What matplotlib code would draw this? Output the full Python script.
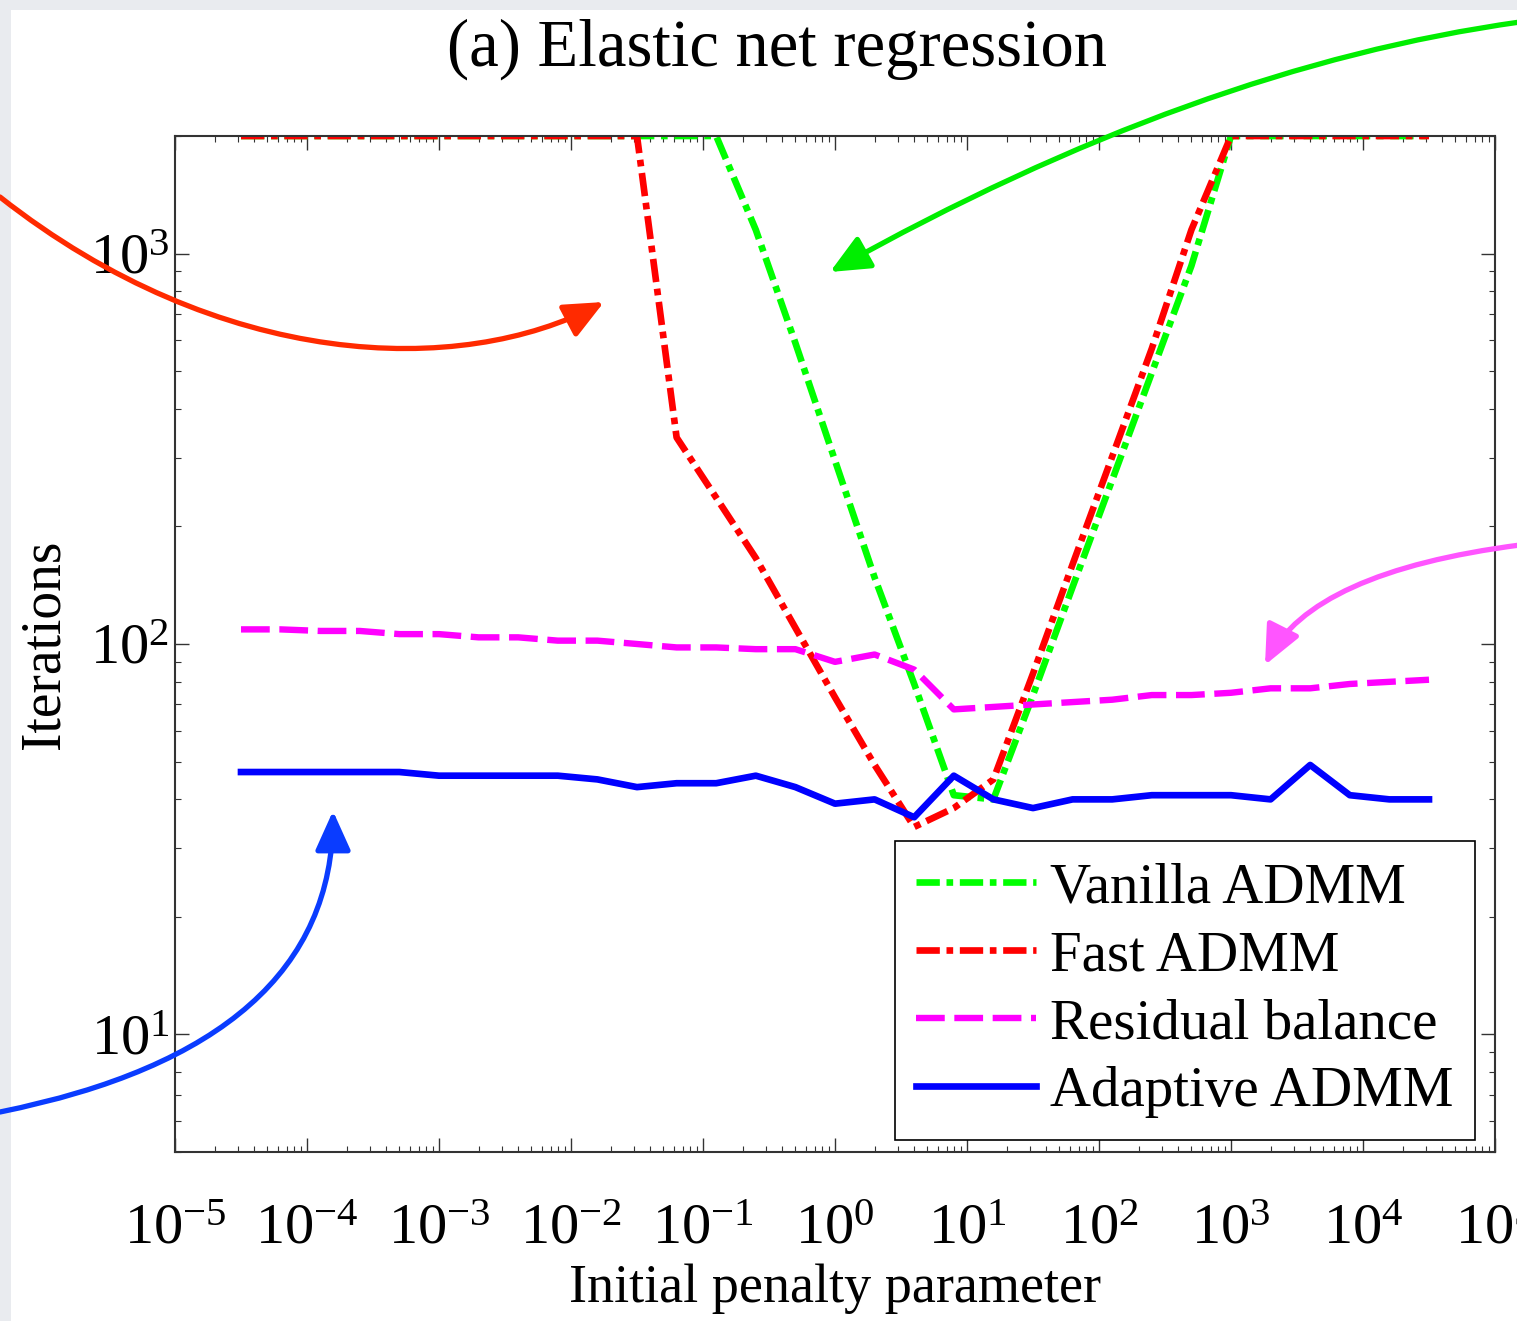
import numpy as np
import matplotlib
matplotlib.use("Agg")
import matplotlib.pyplot as plt
from matplotlib.patches import FancyArrowPatch, Rectangle
from matplotlib.path import Path
from matplotlib.ticker import LogLocator, NullFormatter

W, H = 1517, 1321

# initial penalty parameter, as log10 exponents
log_rho = [-4.5, -4.2, -3.9, -3.6, -3.3, -3.0, -2.7, -2.4, -2.1, -1.8, -1.5,
           -1.2, -0.9, -0.6, -0.3, 0.0, 0.3, 0.6, 0.9, 1.2, 1.5, 1.8,
           2.1, 2.4, 2.7, 3.0, 3.3, 3.6, 3.9, 4.2, 4.5]
rho = [10 ** v for v in log_rho]

vanilla = [2000, 2000, 2000, 2000, 2000, 2000, 2000, 2000, 2000, 2000, 2000,
           2000, 2000, 1150, 590, 295, 148, 79, 41, 40, 74, 140,
           263, 495, 930, 2000, 2000, 2000, 2000, 2000, 2000]
fast = [2000, 2000, 2000, 2000, 2000, 2000, 2000, 2000, 2000, 2000, 2000,
        338, 237, 166, 110, 73, 49, 34, 38, 45, 84, 160,
        302, 571, 1150, 2000, 2000, 2000, 2000, 2000, 2000]
residual = [109, 109, 108, 108, 106, 106, 104, 104, 102, 102, 100,
            98, 98, 97, 97, 90, 94, 86, 68, 69, 70, 71,
            72, 74, 74, 75, 77, 77, 79, 80, 81]
adaptive = [47, 47, 47, 47, 47, 46, 46, 46, 46, 45, 43,
            44, 44, 46, 43, 39, 40, 36, 46, 40, 38, 40,
            40, 41, 41, 41, 40, 49, 41, 40, 40]

plt.rcParams["font.family"] = "Liberation Serif"
plt.rcParams["mathtext.fontset"] = "custom"
plt.rcParams["mathtext.rm"] = "Liberation Serif"
plt.rcParams["mathtext.it"] = "Liberation Serif:italic"
plt.rcParams["mathtext.bf"] = "Liberation Serif:bold"
plt.rcParams["axes.unicode_minus"] = False

fig = plt.figure(figsize=(W / 100, H / 100), dpi=100, facecolor="#e9ebef")
fig.patches.append(Rectangle((11 / W, 0), 1, 1 - 10 / H, transform=fig.transFigure,
                             facecolor="white", edgecolor="none", zorder=-10))

ax = fig.add_axes([175 / W, 1 - 1152 / H, 1320 / W, 1016 / H])

ax.plot(rho, vanilla, color=(0, 1, 0), lw=4.8, dashes=(3.5, 1, 1, 1), label="Vanilla ADMM")
ax.plot(rho, fast, color=(1, 0, 0), lw=4.8, dashes=(3.5, 1, 1, 1), label="Fast ADMM")
ax.plot(rho, residual, color=(1, 0, 1), lw=4.6, dashes=(4.5, 1.5), label="Residual balance")
ax.plot(rho, adaptive, color=(0, 0, 1), lw=4.8, label="Adaptive ADMM")

ax.set_xscale("log")
ax.set_yscale("log")
ax.set_xlim(1e-5, 1e5)
ax.set_ylim(5, 2000)

for axis in (ax.xaxis, ax.yaxis):
    axis.set_major_locator(LogLocator(base=10, numticks=30))
    axis.set_minor_locator(LogLocator(base=10, subs=np.arange(2, 10), numticks=300))
    axis.set_minor_formatter(NullFormatter())

ax.tick_params(which="both", direction="in", top=True, right=True, color="#333333")
ax.tick_params(which="major", length=10, width=1.0, labelsize=42)
ax.tick_params(which="minor", length=4.5, width=0.8)
ax.tick_params(axis="x", pad=37)
ax.tick_params(axis="y", pad=4)
for s in ax.spines.values():
    s.set_color("#333333")
    s.set_linewidth(1.5)

ax.set_xlabel("Initial penalty parameter", fontsize=39, labelpad=6)
ax.set_ylabel("Iterations", fontsize=40, labelpad=14)
fig.text(777 / W, 1 - 66 / H, "(a) Elastic net regression", fontsize=48,
         ha="center", va="baseline")

leg = ax.legend(loc="lower right", bbox_to_anchor=(0.985, 0.012), borderaxespad=0,
                fontsize=41, handlelength=2.1, handletextpad=0.25, labelspacing=0.28,
                borderpad=0.38, fancybox=False, edgecolor="black", framealpha=1)
leg.get_frame().set_linewidth(1.2)


def fxy(x, y):
    return (x / W, 1 - y / H)


def curved_arrow(points, color):
    if len(points) == 3:
        codes = [Path.MOVETO, Path.CURVE3, Path.CURVE3]
    else:
        codes = [Path.MOVETO, Path.CURVE4, Path.CURVE4, Path.CURVE4]
    p = Path([fxy(*pt) for pt in points], codes)
    fig.add_artist(FancyArrowPatch(path=p, arrowstyle="-|>,head_length=1.0,head_width=0.45",
                                   mutation_scale=24, color=color, lw=3.8,
                                   transform=fig.transFigure))


curved_arrow([(0, 197), (220, 370), (460, 378), (604, 302)], "#ff2a00")
curved_arrow([(1520, 22), (1196, 67), (830, 272)], "#00ee00")
curved_arrow([(1520, 545), (1312, 572), (1265, 665)], "#ff55ff")
curved_arrow([(0, 1112), (333, 1045), (333, 811)], "#0a3cff")

fig.savefig("out.png", dpi=100, facecolor=fig.get_facecolor())
